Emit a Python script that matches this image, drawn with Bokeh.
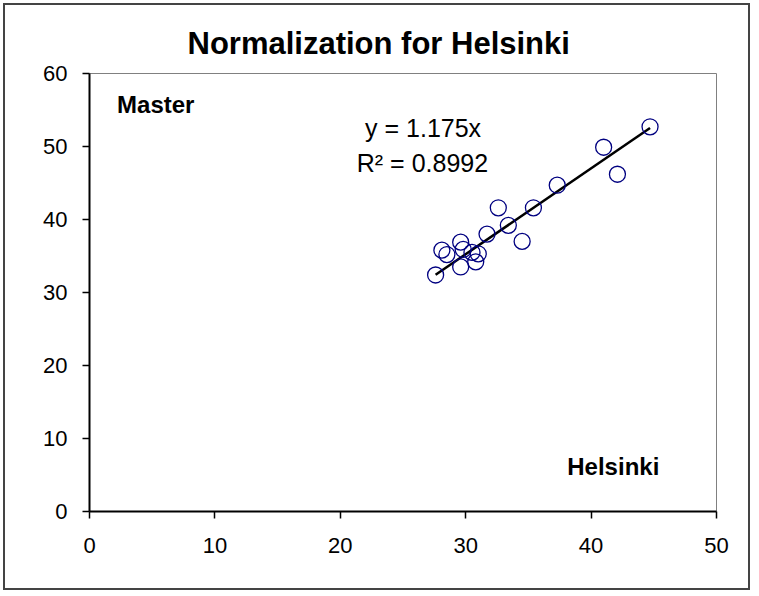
from bokeh.plotting import figure
from bokeh.models import Range1d, FixedTicker, Label
from bokeh.embed import file_html
from bokeh.resources import INLINE

# Data
helsinki = [27.6, 28.1, 28.5, 29.6, 29.8, 30.5, 31.0, 30.8, 29.6, 31.7,
            32.6, 33.4, 34.5, 35.4, 37.3, 41.0, 42.1, 44.7]
master = [32.4, 35.8, 35.2, 36.9, 35.9, 35.5, 35.3, 34.2, 33.5, 38.0,
          41.6, 39.2, 37.0, 41.6, 44.7, 49.9, 46.2, 52.7]
slope = 1.175
r2 = 0.8992
x_ticks = [0, 10, 20, 30, 40, 50]
y_ticks = [0, 10, 20, 30, 40, 50, 60]

FONT = "Liberation Sans"

p = figure(width=747, height=587, output_backend="svg", toolbar_location=None,
           x_range=Range1d(0, 50), y_range=Range1d(0, 60),
           min_border_left=84, min_border_right=36, min_border_top=68, min_border_bottom=81)
p.styles = {"border": "2px solid #444444", "margin-left": "3px", "margin-top": "3px"}

p.title.text = "Normalization for Helsinki"
p.title.text_font = FONT
p.title.text_font_size = "31px"
p.title.text_font_style = "bold"
p.title.text_color = "black"
p.title.align = "left"
p.title.offset = 98
p.title.standoff = 25

p.xgrid.visible = False
p.ygrid.visible = False
p.outline_line_color = "#808080"
p.outline_line_width = 1
p.background_fill_color = "white"
p.border_fill_color = "white"

for ax in (p.xaxis[0], p.yaxis[0]):
    ax.axis_line_color = "black"
    ax.axis_line_width = 2
    ax.major_tick_line_color = "black"
    ax.major_tick_line_width = 1.5
    ax.major_tick_out = 7
    ax.major_tick_in = 0
    ax.minor_tick_line_color = None
    ax.major_label_text_font = FONT
    ax.major_label_text_font_size = "22px"
    ax.major_label_text_color = "black"

p.xaxis[0].ticker = FixedTicker(ticks=x_ticks)
p.yaxis[0].ticker = FixedTicker(ticks=y_ticks)
p.xaxis[0].major_label_standoff = 19
p.yaxis[0].major_label_standoff = 15

# trend line through origin, drawn over the data's x span
x0, x1 = min(helsinki), max(helsinki)
p.line([x0, x1], [slope * x0, slope * x1], line_color="black", line_width=2.5)

p.scatter(helsinki, master, marker="circle", size=16, fill_color=None,
          line_color="#000080", line_width=1.3)

p.add_layout(Label(x=26.6, y=52.6, text=f"y = {slope}x", text_font=FONT,
                   text_font_size="25px", text_align="center", text_baseline="middle",
                   text_color="black"))
p.add_layout(Label(x=26.55, y=47.8, text=f"R\u00b2 = {r2}", text_font=FONT,
                   text_font_size="25px", text_align="center", text_baseline="middle",
                   text_color="black"))
p.add_layout(Label(x=2.2, y=55.7, text="Master", text_font=FONT, text_font_size="24px",
                   text_font_style="bold", text_align="left", text_baseline="middle",
                   text_color="black"))
p.add_layout(Label(x=38.1, y=6.1, text="Helsinki", text_font=FONT, text_font_size="24px",
                   text_font_style="bold", text_align="left", text_baseline="middle",
                   text_color="black"))

open("out.html", "w").write(file_html(p, INLINE))
